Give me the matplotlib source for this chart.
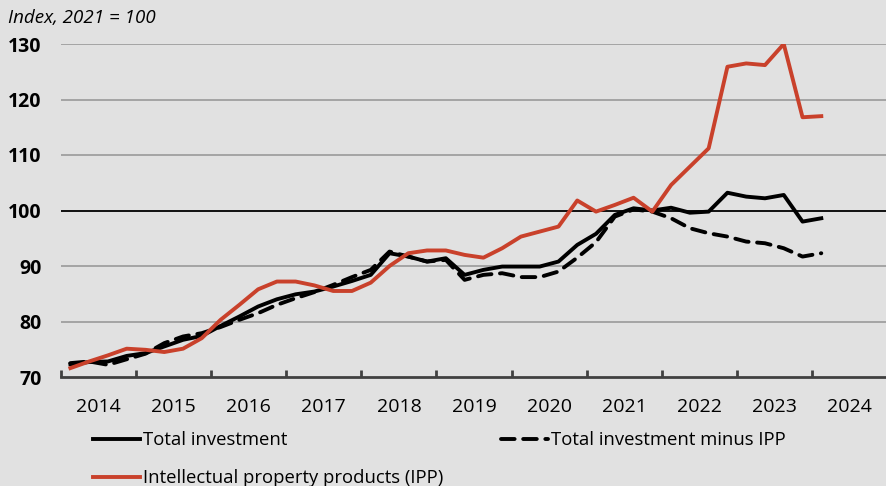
import matplotlib
matplotlib.use("Agg")
import matplotlib.pyplot as plt
import numpy as np

plt.rcParams['font.family'] = ['Open Sans', 'DejaVu Sans']

# quarterly index values, 2014Q1 - 2024Q1
total = [72.3, 72.7, 72.8, 73.8, 74.3, 75.5, 76.7, 77.4, 79.2, 80.9, 82.7, 84.0,
         84.9, 85.4, 86.3, 87.3, 88.4, 92.3, 91.7, 90.8, 91.4, 88.4, 89.3, 89.9,
         89.9, 89.9, 90.8, 93.8, 95.8, 99.2, 100.4, 100.0, 100.5, 99.6, 99.8,
         103.2, 102.5, 102.2, 102.8, 98.0, 98.6]
minus_ipp = [72.5, 72.8, 72.2, 73.2, 74.2, 76.1, 77.3, 77.9, 79.0, 80.3, 81.5, 83.0,
             84.2, 85.3, 86.6, 88.0, 89.3, 92.6, 91.7, 90.8, 91.1, 87.5, 88.4, 88.7,
             88.0, 88.0, 89.0, 91.5, 94.3, 98.9, 100.2, 99.8, 98.6, 96.8, 95.9,
             95.3, 94.4, 94.1, 93.2, 91.7, 92.3]
ipp = [71.6, 72.8, 73.9, 75.1, 74.9, 74.5, 75.1, 77.0, 80.3, 83.0, 85.8, 87.2,
       87.2, 86.5, 85.5, 85.5, 87.0, 90.0, 92.3, 92.8, 92.8, 92.0, 91.5, 93.2,
       95.3, 96.2, 97.1, 101.8, 99.8, 101.0, 102.3, 99.8, 104.6, 107.9, 111.2,
       125.9, 126.5, 126.2, 130.0, 116.8, 117.0]
years = list(range(2014, 2025))

x = 2014 + (np.arange(len(total)) + 0.5) / 4

bg = '#e1e1e1'
red = '#c9412b'

fig = plt.figure(figsize=(8.87, 4.86), dpi=100, facecolor=bg)
ax = fig.add_axes([61 / 887, 109 / 486, 826 / 887, 333 / 486], facecolor=bg)

# grid lines, 100 in black
for v in [80, 90, 110, 120, 130]:
    ax.axhline(v, color='#9a9a9a', lw=1.2, zorder=1)
ax.axhline(100, color='black', lw=1.3, zorder=1)

ax.plot(x, total, color='black', lw=2.8, label='Total investment', zorder=3,
        solid_joinstyle='round')
ax.plot(x, minus_ipp, color='black', lw=2.8, ls=(0, (3.5, 2.2)),
        label='Total investment minus IPP', zorder=3, dash_capstyle='round')
ax.plot(x, ipp, color=red, lw=2.8, label='Intellectual property products (IPP)',
        zorder=4)

ax.set_xlim(2014, 2025)
ax.set_ylim(70, 130)

for s in ['top', 'right', 'left']:
    ax.spines[s].set_visible(False)
ax.spines['bottom'].set_color('#404040')
ax.spines['bottom'].set_linewidth(2)

ax.set_xticks(years)
ax.set_xticklabels([])
ax.set_xticks([y + 0.5 for y in years], minor=True)
ax.set_xticklabels([str(y) for y in years], minor=True, fontsize=14)
ax.tick_params(axis='x', which='major', direction='in', length=5, width=2,
               color='#404040')
ax.tick_params(axis='x', which='minor', length=0, pad=15)

ax.set_yticks([70, 80, 90, 100, 110, 120, 130])
ax.set_yticklabels(['70', '80', '90', '100', '110', '120', '130'],
                   fontsize=14, fontweight='bold')
ax.tick_params(axis='y', length=0, pad=14)

fig.text(8 / 887, 1 - 18 / 486, 'Index, 2021 = 100', fontsize=13.5,
         style='italic', va='center', ha='left')

h, l = ax.get_legend_handles_labels()
leg = fig.legend([h[0], h[2], h[1]], [l[0], l[2], l[1]], ncol=2,
                 loc='upper left', bbox_to_anchor=(86 / 887, 1 - 424 / 486),
                 frameon=False, fontsize=13.3, handlelength=2.55,
                 handletextpad=0.15, columnspacing=3.1, labelspacing=1.08,
                 borderaxespad=0)

fig.savefig('out.png', dpi=100, facecolor=bg)
